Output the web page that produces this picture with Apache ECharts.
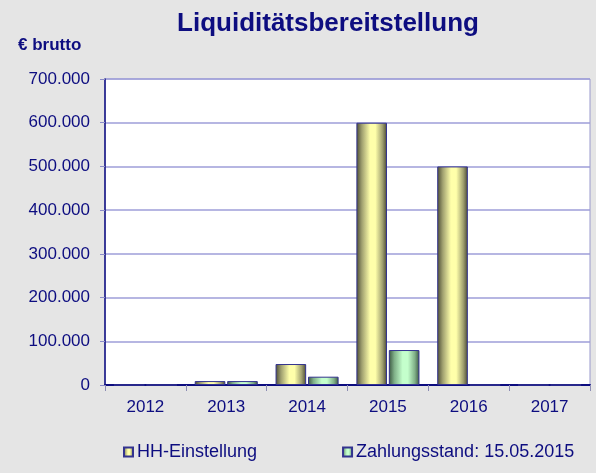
<!DOCTYPE html>
<html>
<head>
<meta charset="utf-8">
<script src="https://cdn.jsdelivr.net/npm/echarts@6/dist/echarts.min.js"></script>
<style>
	html, body { margin: 0; padding: 0; background: #e5e5e5; }
	#chart { width: 596px; height: 473px; }
</style>
</head>
<body>
<div id="chart"></div>
<script>
	var years = ["2012", "2013", "2014", "2015", "2016", "2017"];
	var hhEinstellung = [0, 9000, 48000, 600000, 500000, 0];
	var zahlungsstand = [0, 9000, 19000, 80000, 0, 0];
	var yTicks = [0, 100000, 200000, 300000, 400000, 500000, 600000, 700000];

	var navy = '#0d0d80';

	function barGradient(dark, mid, light) {
		return new echarts.graphic.LinearGradient(0, 0, 1, 0, [
			{ offset: 0, color: dark },
			{ offset: 0.18, color: mid },
			{ offset: 0.45, color: light },
			{ offset: 0.62, color: light },
			{ offset: 0.85, color: mid },
			{ offset: 1, color: dark }
		]);
	}

	function fmt(v) {
		// Tausenderpunkt wie im Original
		return String(v).replace(/\B(?=(\d{3})+(?!\d))/g, '.');
	}

	var chart = echarts.init(document.getElementById('chart'));
	var option = {
		backgroundColor: '#e5e5e5',
		animation: false,
		title: [{
			text: 'Liquiditätsbereitstellung',
			left: 323,
			textAlign: 'center',
			top: 6,
			textStyle: { fontFamily: 'Liberation Sans, Arial', fontSize: 26, fontWeight: 'bold', color: navy }
		}, {
			text: '€ brutto',
			left: 13,
			top: 32,
			textStyle: { fontFamily: 'Liberation Sans, Arial', fontSize: 17, fontWeight: 'bold', color: navy }
		}],
		legend: {
			left: 123,
			top: 443,
			padding: 0,
			itemWidth: 9,
			itemHeight: 9,
			itemGap: 85,
			icon: 'rect',
			textStyle: { fontFamily: 'Liberation Sans, Arial', fontSize: 18, color: navy, padding: [0, 0, 0, -1] },
			data: ['HH-Einstellung', 'Zahlungsstand: 15.05.2015']
		},
		grid: {
			left: 105,
			right: 6,
			top: 79,
			bottom: 88,
			show: true,
			backgroundColor: '#ffffff',
			borderColor: '#9999cc',
			borderWidth: 1
		},
		xAxis: {
			type: 'category',
			data: years,
			axisLine: { lineStyle: { color: navy, width: 2 } },
			axisTick: { show: true, length: 6, lineStyle: { color: '#8c8cb4' } },
			axisLabel: { fontFamily: 'Liberation Sans, Arial', fontSize: 17, color: navy, margin: 14 }
		},
		yAxis: {
			type: 'value',
			min: 0,
			max: yTicks[yTicks.length - 1],
			interval: yTicks[1] - yTicks[0],
			axisLine: { show: true, lineStyle: { color: navy, width: 1.5 } },
			axisTick: { show: true, length: 5, lineStyle: { color: '#8c8cc8' } },
			splitLine: { lineStyle: { color: '#9e9ed8', width: 1.5 } },
			axisLabel: {
				fontFamily: 'Liberation Sans, Arial',
				fontSize: 17,
				color: navy,
				margin: 15,
				formatter: function(v) { return fmt(v); }
			}
		},
		series: [{
			name: 'HH-Einstellung',
			type: 'bar',
			data: hhEinstellung,
			barGap: '6%',
			barCategoryGap: '22%',
			itemStyle: {
				color: barGradient('#4a4a32', '#a0a070', '#ffffaa'),
				borderColor: '#33338f',
				borderWidth: 1
			}
		}, {
			name: 'Zahlungsstand: 15.05.2015',
			type: 'bar',
			data: zahlungsstand,
			itemStyle: {
				color: barGradient('#3a5540', '#80b088', '#c4ffcc'),
				borderColor: '#33338f',
				borderWidth: 1
			}
		}]
	};
	chart.setOption(option);
</script>
</body>
</html>
